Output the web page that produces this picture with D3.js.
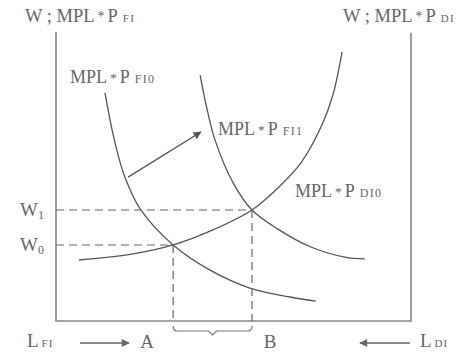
<!DOCTYPE html>
<html><head><meta charset="utf-8">
<script src="https://cdn.jsdelivr.net/npm/d3@7"></script>
<style>
html,body{margin:0;padding:0;background:#fff;}
svg{display:block;}
text{font-family:"Liberation Serif","DejaVu Serif",serif;fill:#666;}
</style></head>
<body>
<script>
// ---- data (labour units, wage units) ----
const curveFI0 = [[1.38,7.89],[1.58,6.61],[1.75,5.74],[1.94,4.98],[2.37,3.88],[3.30,2.63],[4.34,1.76],[5.46,1.14],[6.59,0.83],[7.32,0.69]];
const curveFI1 = [[4.06,8.51],[4.23,7.47],[4.48,6.26],[4.99,4.78],[5.52,3.84],[6.25,3.18],[7.18,2.56],[8.14,2.21],[8.70,2.15]];
const curveDI0 = [[0.65,2.11],[2.17,2.32],[3.30,2.63],[4.42,3.15],[5.52,3.84],[6.25,4.60],[6.90,5.47],[7.49,6.78],[7.80,7.82],[8.06,9.31]];
const eqLabor = [3.30, 5.52];        // A, B
const eqWage = [2.63, 3.84];         // W0, W1
const laborLabels = ["A","B"];
const wageLabels = [["W","0"],["W","1"]];
const shiftArrow = [[2.03,4.98],[4.08,6.54]];
const curveLabels = [
  {main:"MPL", sub:"FI0"},
  {main:"MPL", sub:"FI1"},
  {main:"MPL", sub:"DI0"}
];

const W = 456, H = 357;
const svg = d3.select("body").append("svg").attr("width", W).attr("height", H);
const defs = svg.append("defs");
defs.append("marker").attr("id","ah").attr("viewBox","0 0 10 10").attr("refX",9).attr("refY",5)
  .attr("markerWidth",11).attr("markerHeight",8).attr("markerUnits","userSpaceOnUse").attr("orient","auto")
  .append("path").attr("d","M0,0 L10,5 L0,10 z").attr("fill","#555");
defs.append("marker").attr("id","ah2").attr("viewBox","0 0 10 10").attr("refX",9).attr("refY",5)
  .attr("markerWidth",18).attr("markerHeight",8).attr("markerUnits","userSpaceOnUse").attr("orient","auto")
  .append("path").attr("d","M0,0 L10,5 L0,10 z").attr("fill","#666");

const x = d3.scaleLinear().domain([0,10]).range([56,411]);
const y = d3.scaleLinear().domain([0,10]).range([321,32]);

// frame (two vertical axes + horizontal axis)
svg.append("path").attr("d", d3.line()([[x(0),y(10)],[x(0),y(0)],[x(10),y(0)],[x(10),y(9.97)]]))
  .attr("fill","none").attr("stroke","#888").attr("stroke-width",1.6);

const line = d3.line().x(d=>x(d[0])).y(d=>y(d[1])).curve(d3.curveCatmullRom.alpha(0.5));
[curveFI0, curveFI1, curveDI0].forEach(c=>{
  svg.append("path").attr("d", line(c)).attr("fill","none").attr("stroke","#555").attr("stroke-width",1.3);
});

// dashed guides
const dash = "8,5";
eqWage.forEach((w,i)=>{
  svg.append("line").attr("x1",x(0)).attr("x2",x(eqLabor[i])).attr("y1",y(w)).attr("y2",y(w))
    .attr("stroke","#666").attr("stroke-width",1.2).attr("stroke-dasharray",dash);
  svg.append("line").attr("x1",x(eqLabor[i])).attr("x2",x(eqLabor[i])).attr("y1",y(w)).attr("y2",y(0))
    .attr("stroke","#666").attr("stroke-width",1.2).attr("stroke-dasharray",dash);
});

// brace between A and B
const xa = x(eqLabor[0]), xb = x(eqLabor[1]), xm = (xa+xb)/2, by = y(0);
svg.append("path")
  .attr("d", `M${xa},${by+5} Q${xa},${by+10} ${xa+4},${by+10} L${xm-4},${by+10} L${xm},${by+14} L${xm+4},${by+10} L${xb-4},${by+10} Q${xb},${by+10} ${xb},${by+5}`)
  .attr("fill","none").attr("stroke","#777").attr("stroke-width",1.2);

// shift arrow
svg.append("line").attr("x1",x(shiftArrow[0][0])).attr("y1",y(shiftArrow[0][1]))
  .attr("x2",x(shiftArrow[1][0])).attr("y2",y(shiftArrow[1][1]))
  .attr("stroke","#555").attr("stroke-width",1.4).attr("marker-end","url(#ah)");

// text helper: "MAIN * P sub"
function label(px, py, before, sub, size, subSize){
  const t = svg.append("text").attr("x",px).attr("y",py).attr("font-size",size);
  t.append("tspan").text(before);
  t.append("tspan").attr("dy",-1).attr("font-size",size*0.75).attr("dx",3).text("*");
  t.append("tspan").attr("dy",1).attr("dx",3).text("P");
  if(sub) t.append("tspan").attr("font-size",subSize).attr("dx",5).attr("letter-spacing",1.3).text(sub);
  return t;
}

// titles
label(25, 22, "W ; MPL", "FI", 18.5, 11);
label(343, 22, "W ; MPL", "DI", 18.5, 11);

// curve labels
const clPos = [[70,83],[218,135],[295,197]];
curveLabels.forEach((c,i)=>{
  label(clPos[i][0], clPos[i][1], c.main, c.sub, 18, 12);
});

// wage labels
wageLabels.forEach((w,i)=>{
  const t = svg.append("text").attr("x",20).attr("y",y(eqWage[i])+6).attr("font-size",19);
  t.append("tspan").text(w[0]);
  t.append("tspan").attr("font-size",12).attr("dy",3).text(w[1]);
});

// labour labels
laborLabels.forEach((l,i)=>{
  svg.append("text").attr("x", i===0 ? 147 : 270).attr("y",348).attr("font-size",19)
    .attr("text-anchor","middle").text(l);
});

// L_FI and L_DI
const lf = svg.append("text").attr("x",27).attr("y",347).attr("font-size",19);
lf.append("tspan").text("L");
lf.append("tspan").attr("font-size",11).attr("dx",3).attr("letter-spacing",1).text("FI");
svg.append("line").attr("x1",80).attr("y1",343).attr("x2",129).attr("y2",343)
  .attr("stroke","#666").attr("stroke-width",1.5).attr("marker-end","url(#ah2)");

const ld = svg.append("text").attr("x",420).attr("y",347).attr("font-size",19);
ld.append("tspan").text("L");
ld.append("tspan").attr("font-size",11).attr("dx",3).attr("letter-spacing",1).text("DI");
svg.append("line").attr("x1",410).attr("y1",343).attr("x2",360).attr("y2",343)
  .attr("stroke","#666").attr("stroke-width",1.5).attr("marker-end","url(#ah2)");
</script>
</body></html>
